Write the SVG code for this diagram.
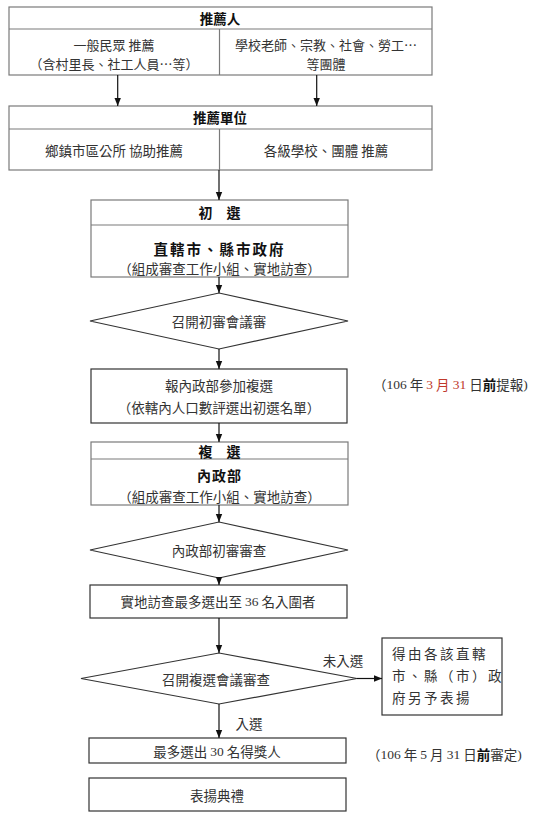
<svg xmlns="http://www.w3.org/2000/svg" width="540" height="821" viewBox="0 0 540 821">
<defs>
<marker id="ah" viewBox="0 0 8 8" refX="8" refY="4" markerWidth="8" markerHeight="8" markerUnits="userSpaceOnUse" orient="auto">
<path d="M0,0.8 L8,4 L0,7.2 Z" fill="#111"/>
</marker>
<style>
.bx{fill:#fff;stroke:#7a7a7a;stroke-width:1.2}
.bd{fill:#fff;stroke:#333;stroke-width:1.2}
.ln{stroke:#7a7a7a;stroke-width:1.2;fill:none}
.t{font-family:"Noto Sans CJK TC","Liberation Sans",sans-serif;font-size:13.5px;fill:#333;text-anchor:middle;dominant-baseline:central}
.sm{font-size:13px}
.h{font-weight:bold;fill:#111}
.s{font-family:"Liberation Serif","Noto Sans CJK TC",serif}
.a{stroke:#111;stroke-width:1.2;fill:none;marker-end:url(#ah)}
</style>
</defs>
<rect width="540" height="821" fill="#fff"/>

<g id="n1">
<rect class="bx" x="9" y="7" width="423" height="68"/>
<line class="ln" x1="9" y1="29" x2="432" y2="29"/>
<line class="ln" x1="219.5" y1="29" x2="219.5" y2="75"/>
<text class="t h" x="220" y="18">推薦人</text>
<text class="t sm" x="114" y="44">一般民眾  推薦</text>
<text class="t sm" x="114" y="63.5">（含村里長、社工人員…等）</text>
<text class="t sm" x="326" y="44">學校老師、宗教、社會、勞工…</text>
<text class="t sm" x="326" y="63.5">等團體</text>
</g>

<g id="n2">
<rect class="bx" x="9" y="106" width="423" height="64"/>
<line class="ln" x1="9" y1="129" x2="432" y2="129"/>
<line class="ln" x1="219.5" y1="129" x2="219.5" y2="170"/>
<text class="t h" x="220" y="117">推薦單位</text>
<text class="t" x="114" y="150">鄉鎮市區公所  協助推薦</text>
<text class="t" x="326" y="150">各級學校、團體  推薦</text>
</g>

<g id="n3">
<rect class="bx" x="91" y="200" width="257" height="77"/>
<line class="ln" x1="91" y1="225" x2="348" y2="225"/>
<text class="t h" x="219.5" y="212" style="font-size:14px">初　選</text>
<text class="t h" x="219.5" y="248" style="font-size:14.5px;letter-spacing:2px">直轄市、縣市政府</text>
<text class="t" x="219.5" y="268">（組成審查工作小組、實地訪查）</text>
</g>

<g id="n4">
<polygon class="bd" points="219,293 348,321 219,349 90,321"/>
<text class="t" x="219" y="321">召開初審會議審</text>
</g>

<g id="n5">
<rect class="bd" x="91" y="369" width="256" height="54"/>
<text class="t" x="219" y="385">報內政部參加複選</text>
<text class="t" x="219" y="407">（依轄內人口數評選出初選名單）</text>
</g>

<g id="n6">
<text class="t" x="373" y="384" style="text-anchor:start"><tspan>（</tspan><tspan class="s">106</tspan><tspan> 年 </tspan><tspan class="s" fill="#c0392b">3</tspan><tspan fill="#c0392b"> 月 </tspan><tspan class="s" fill="#c0392b">31</tspan><tspan> 日</tspan><tspan class="h">前</tspan><tspan>提報</tspan><tspan class="s">)</tspan></text>
</g>

<g id="n7">
<rect class="bx" x="91" y="442" width="257" height="63"/>
<line class="ln" x1="91" y1="459" x2="348" y2="459"/>
<text class="t h" x="219.5" y="451" style="font-size:14px">複　選</text>
<text class="t h" x="219.5" y="475" style="font-size:14px;letter-spacing:1px">內政部</text>
<text class="t" x="219.5" y="496">（組成審查工作小組、實地訪查）</text>
</g>

<g id="n8">
<polygon class="bd" points="219,522 348,550 219,578 90,550"/>
<text class="t" x="219" y="550">內政部初審審查</text>
</g>

<g id="n9">
<rect class="bd" x="90" y="585" width="257" height="33"/>
<text class="t" x="218" y="601">實地訪查最多選出至 <tspan class="s">36</tspan> 名入圍者</text>
</g>

<g id="n10">
<polygon class="bd" points="219,653 357,678.5 219,704 81,678.5"/>
<text class="t" x="216" y="679">召開複選會議審查</text>
</g>

<g id="n11">
<rect class="bd" x="382" y="638" width="120" height="77"/>
<text class="t" x="392" y="653" style="text-anchor:start;letter-spacing:2.5px">得由各該直轄</text>
<text class="t" x="392" y="675" style="text-anchor:start;letter-spacing:2.5px">市、縣（市）政</text>
<text class="t" x="392" y="697" style="text-anchor:start;letter-spacing:2.5px">府另予表揚</text>
</g>

<g id="n12">
<rect class="bd" x="89" y="738" width="257" height="25"/>
<text class="t" x="217" y="751">最多選出 <tspan class="s">30</tspan> 名得獎人</text>
</g>

<g id="n13">
<text class="t" x="367" y="754" style="text-anchor:start"><tspan>（</tspan><tspan class="s">106</tspan><tspan> 年 </tspan><tspan class="s">5</tspan><tspan> 月 </tspan><tspan class="s">31</tspan><tspan> 日</tspan><tspan class="h">前</tspan><tspan>審定</tspan><tspan class="s">)</tspan></text>
</g>

<g id="n14">
<rect class="bd" x="89" y="778" width="257" height="33"/>
<text class="t" x="217" y="795">表揚典禮</text>
</g>

<g id="connectors">
<line class="a" x1="117.7" y1="75" x2="117.7" y2="106"/>
<line class="a" x1="316.7" y1="75" x2="316.7" y2="106"/>
<line class="a" x1="219" y1="170" x2="219" y2="200"/>
<line class="a" x1="219" y1="277" x2="219" y2="293"/>
<line class="a" x1="219" y1="349" x2="219" y2="369"/>
<line class="a" x1="219" y1="423" x2="219" y2="442"/>
<line class="a" x1="219" y1="505" x2="219" y2="522"/>
<line class="a" x1="219" y1="578" x2="219" y2="585"/>
<line class="a" x1="219" y1="618" x2="219" y2="653"/>
<line class="a" x1="219" y1="704" x2="219" y2="738"/>
<line class="a" x1="357" y1="678.5" x2="382" y2="678.5"/>
<text class="t" x="343" y="660">未入選</text>
<text class="t" x="249" y="723">入選</text>
</g>
</svg>
